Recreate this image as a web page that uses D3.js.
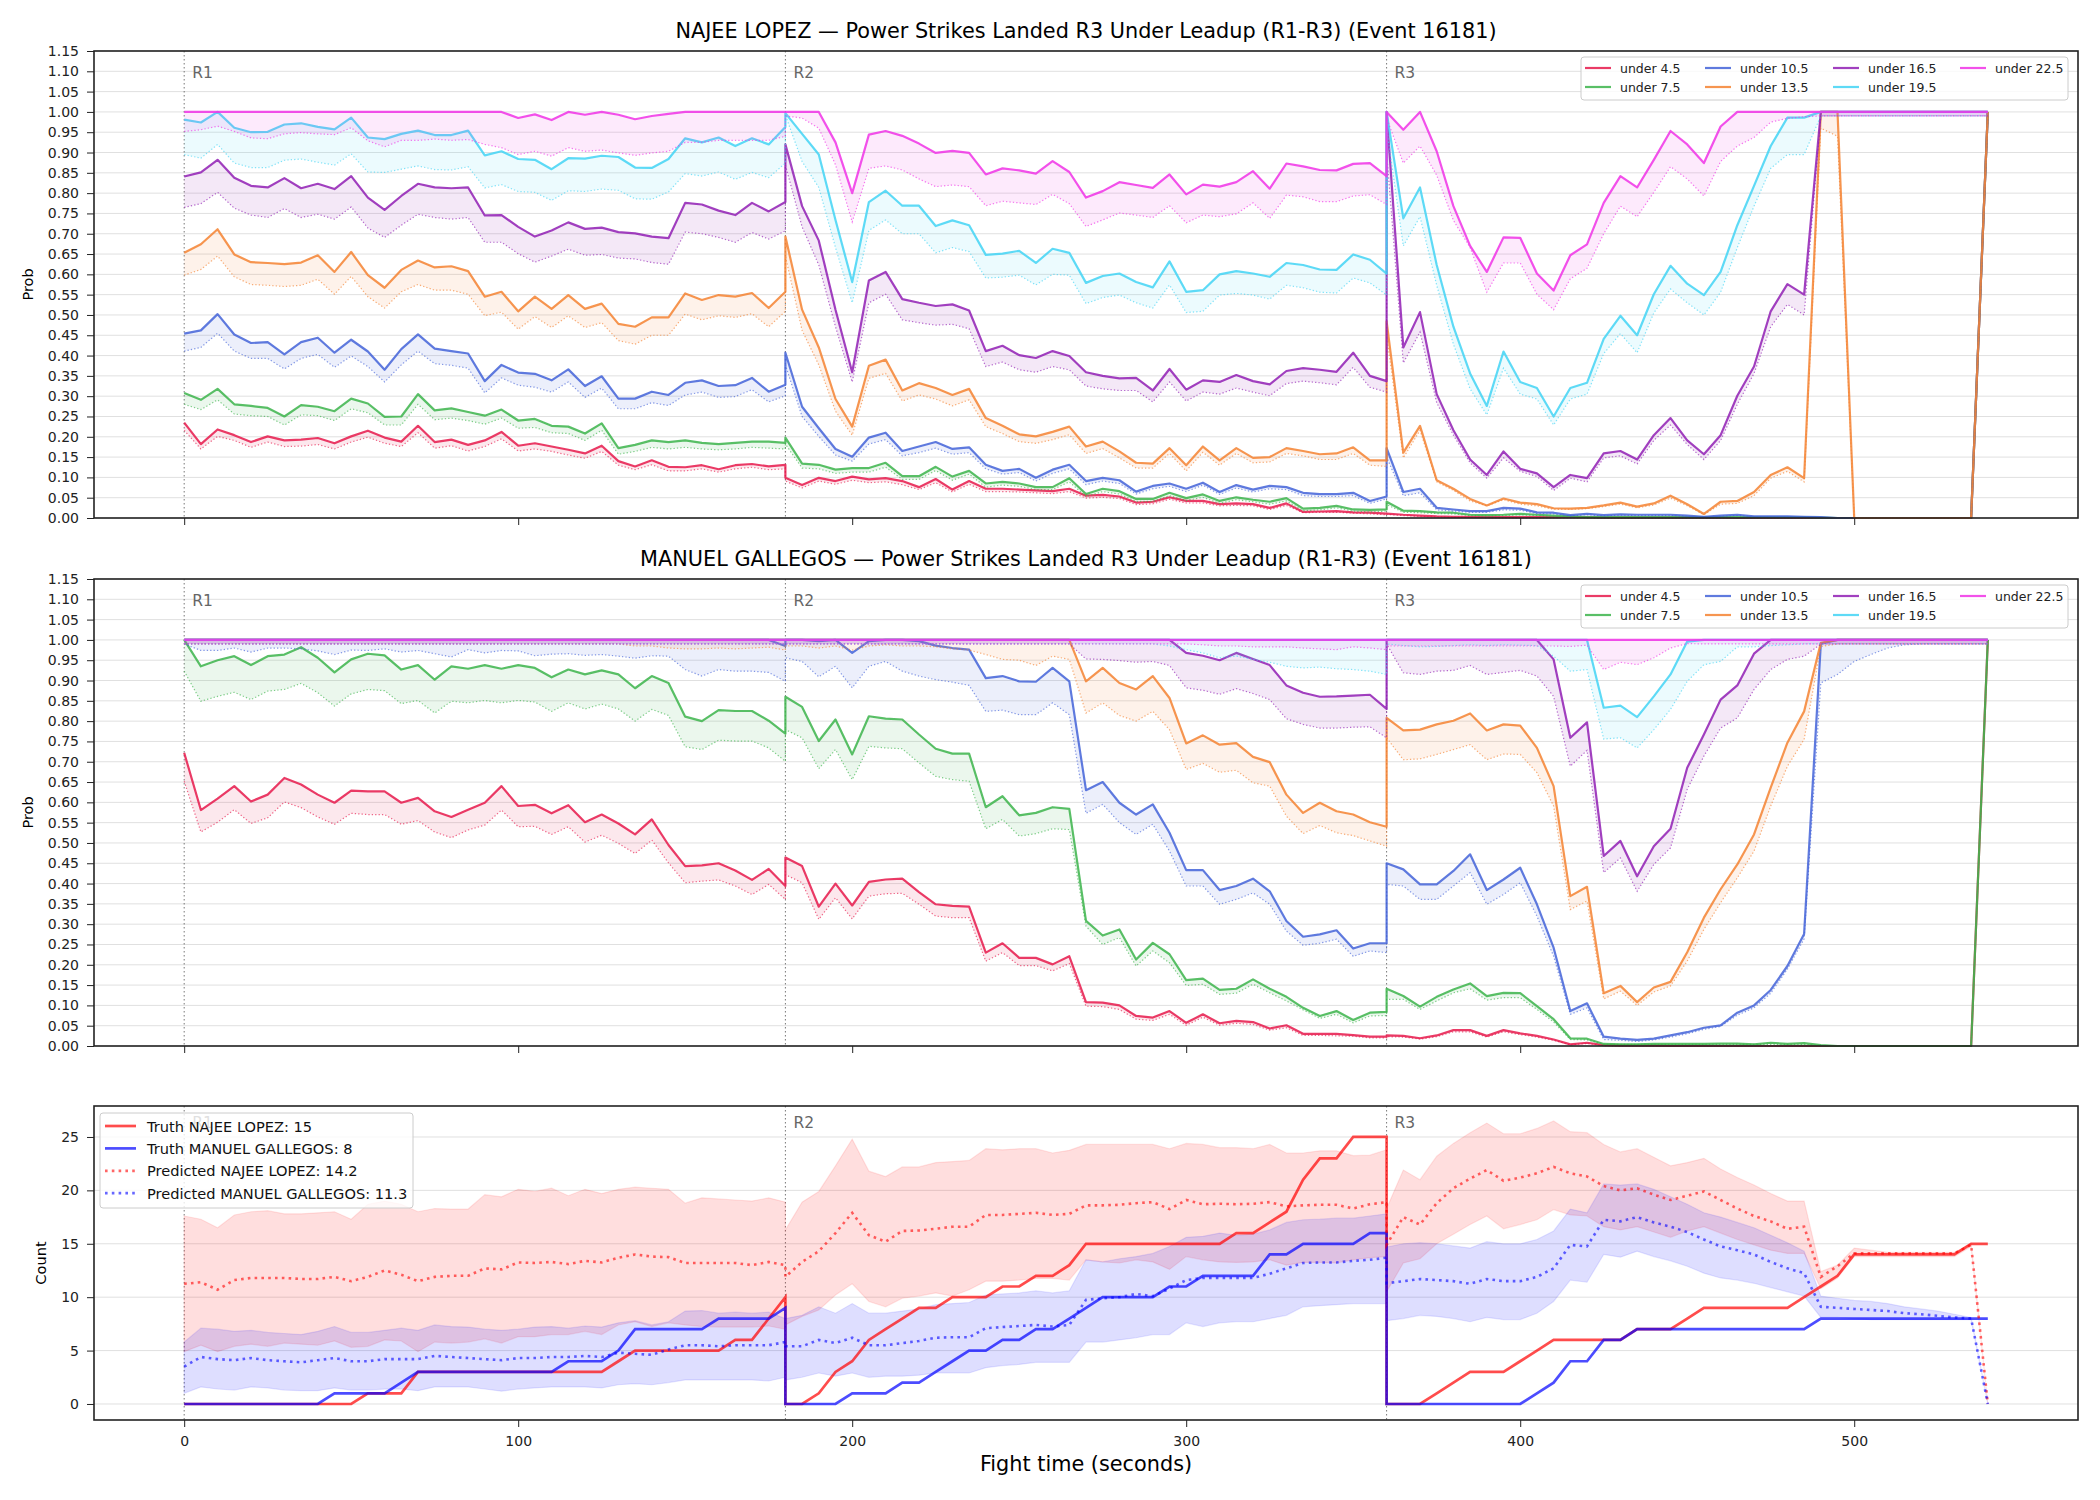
<!DOCTYPE html>
<html>
<head>
<meta charset="utf-8">
<title>Power Strikes Landed R3 Under Leadup</title>
<script src="https://d3js.org/d3.v7.min.js"></script>
<style>
  body { margin: 0; background: #fff; }
  text { font-family: "DejaVu Sans", sans-serif; }
</style>
</head>
<body>
<svg id="chart" width="2100" height="1500"></svg>
<script>
// sample times: every 5 s inside each round, rounds restart at 180 / 360
var roundStarts = [0, 180, 360];
var roundNames = ["R1", "R2", "R3"];
var stepSec = 5;
var times = [];
roundStarts.forEach(function (r) { for (var s = 0; s <= 180; s += stepSec) times.push(r + s); });

var lineLabels = ["under 4.5", "under 7.5", "under 10.5", "under 13.5", "under 16.5", "under 19.5", "under 22.5"];
var lineColors = ["#e6194b", "#3cb44b", "#4363d8", "#f58231", "#911eb4", "#42d4f4", "#f032e6"];
var probTicks = [0, 0.05, 0.1, 0.15, 0.2, 0.25, 0.3, 0.35, 0.4, 0.45, 0.5, 0.55, 0.6, 0.65, 0.7, 0.75, 0.8, 0.85, 0.9, 0.95, 1, 1.05, 1.1, 1.15];
var countTicks = [0, 5, 10, 15, 20, 25];
var timeTicks = [0, 100, 200, 300, 400, 500];

// ---- NAJEE LOPEZ (solid = prob, _lo = dotted lower) ----
var lopez_u45 = [0.235,0.182,0.218,0.204,0.187,0.201,0.191,0.193,0.197,0.184,0.201,0.215,0.198,0.188,0.227,0.187,0.193,0.180,0.191,0.212,0.178,0.184,0.176,0.168,0.159,0.178,0.140,0.127,0.142,0.126,0.125,0.130,0.120,0.130,0.133,0.127,0.131,
 0.099,0.081,0.099,0.091,0.102,0.095,0.098,0.091,0.076,0.096,0.070,0.091,0.072,0.072,0.070,0.068,0.066,0.072,0.055,0.057,0.053,0.038,0.040,0.051,0.042,0.042,0.034,0.036,0.034,0.025,0.036,0.015,0.016,0.017,0.014,0.013,0.011,
 0.011,0.008,0.006,0.004,0.003,0.003,0.002,0.002,0.002,0.002,0.002,0.002,0.002,0.001,0.001,0.001,0.001,0.001,0.001,0.001,0.001,0,0,0,0,0,0,0,0,0,0,0,0,0,0,0,1];
var lopez_u45_lo = [0.216,0.170,0.201,0.191,0.174,0.187,0.176,0.177,0.181,0.170,0.187,0.199,0.184,0.176,0.210,0.172,0.178,0.165,0.176,0.195,0.165,0.170,0.164,0.155,0.147,0.164,0.130,0.119,0.131,0.116,0.116,0.121,0.113,0.121,0.125,0.119,0.121,
 0.091,0.074,0.091,0.083,0.093,0.087,0.089,0.082,0.070,0.087,0.064,0.083,0.065,0.065,0.064,0.062,0.060,0.065,0.049,0.051,0.048,0.033,0.035,0.046,0.037,0.037,0.030,0.031,0.030,0.021,0.031,0.013,0.014,0.014,0.012,0.010,0.008,
 0.009,0.006,0.004,0.003,0.002,0.002,0.001,0.001,0.001,0.001,0.001,0.001,0.001,0,0,0,0,0,0,0,0,0,0,0,0,0,0,0,0,0,0,0,0,0,0,0,0.99];
var lopez_u75 = [0.308,0.291,0.318,0.280,0.276,0.271,0.250,0.278,0.274,0.263,0.294,0.282,0.249,0.250,0.305,0.265,0.270,0.261,0.252,0.267,0.240,0.244,0.227,0.225,0.208,0.233,0.172,0.180,0.191,0.187,0.191,0.185,0.182,0.185,0.188,0.188,0.185,
 0.198,0.134,0.131,0.119,0.123,0.123,0.136,0.103,0.103,0.126,0.102,0.116,0.085,0.089,0.085,0.076,0.076,0.098,0.059,0.072,0.066,0.047,0.047,0.062,0.049,0.058,0.042,0.051,0.045,0.040,0.049,0.023,0.025,0.030,0.021,0.020,0.021,
 0.040,0.018,0.017,0.014,0.013,0.008,0.007,0.008,0.010,0.008,0.006,0.004,0.002,0.002,0.002,0.002,0.002,0.002,0.002,0.002,0.002,0.002,0.002,0.002,0.002,0.002,0.001,0,0,0,0,0,0,0,0,0,1];
var lopez_u75_lo = [0.280,0.267,0.291,0.256,0.252,0.250,0.229,0.254,0.252,0.240,0.269,0.259,0.229,0.229,0.280,0.242,0.246,0.240,0.231,0.246,0.221,0.223,0.210,0.208,0.191,0.216,0.157,0.164,0.174,0.170,0.174,0.170,0.168,0.170,0.174,0.172,0.170,
 0.182,0.123,0.121,0.110,0.113,0.113,0.125,0.095,0.095,0.117,0.093,0.108,0.076,0.081,0.078,0.070,0.070,0.089,0.053,0.065,0.059,0.041,0.041,0.055,0.043,0.051,0.036,0.045,0.040,0.034,0.042,0.018,0.020,0.025,0.017,0.015,0.017,
 0.033,0.014,0.013,0.011,0.010,0.006,0.005,0.006,0.008,0.006,0.004,0.003,0.001,0.001,0.001,0.001,0.001,0.001,0.001,0.001,0.001,0.001,0.001,0.001,0.001,0.001,0,0,0,0,0,0,0,0,0,0,0.99];
var lopez_u105 = [0.454,0.462,0.502,0.452,0.431,0.433,0.403,0.433,0.444,0.407,0.439,0.410,0.365,0.416,0.452,0.417,0.411,0.405,0.337,0.377,0.358,0.355,0.339,0.366,0.325,0.349,0.294,0.294,0.311,0.303,0.333,0.339,0.325,0.327,0.345,0.311,0.328,
 0.407,0.274,0.221,0.170,0.151,0.198,0.210,0.165,0.176,0.187,0.170,0.174,0.131,0.116,0.121,0.099,0.119,0.131,0.091,0.099,0.093,0.065,0.079,0.085,0.072,0.087,0.064,0.081,0.070,0.079,0.076,0.062,0.059,0.059,0.062,0.042,0.053,
 0.172,0.064,0.072,0.025,0.021,0.017,0.017,0.025,0.023,0.014,0.013,0.007,0.010,0.007,0.009,0.008,0.008,0.008,0.006,0.003,0.006,0.008,0.004,0.004,0.004,0.003,0.002,0,0,0,0,0,0,0,0,0,1];
var lopez_u105_lo = [0.411,0.420,0.455,0.411,0.393,0.393,0.367,0.393,0.403,0.371,0.399,0.373,0.335,0.377,0.411,0.380,0.376,0.369,0.308,0.345,0.327,0.322,0.310,0.335,0.297,0.320,0.269,0.269,0.284,0.277,0.303,0.310,0.297,0.299,0.316,0.286,0.301,
 0.377,0.250,0.201,0.155,0.140,0.182,0.193,0.153,0.161,0.172,0.157,0.161,0.121,0.108,0.112,0.091,0.110,0.121,0.082,0.091,0.085,0.059,0.072,0.078,0.065,0.081,0.058,0.074,0.064,0.072,0.070,0.055,0.053,0.053,0.055,0.036,0.047,
 0.150,0.055,0.062,0.020,0.017,0.014,0.014,0.020,0.019,0.011,0.010,0.005,0.008,0.005,0.007,0.006,0.006,0.006,0.004,0.002,0.004,0.006,0.003,0.003,0.003,0.002,0.001,0,0,0,0,0,0,0,0,0,0.99];
var lopez_u135 = [0.653,0.674,0.711,0.649,0.630,0.628,0.625,0.629,0.647,0.606,0.655,0.598,0.567,0.611,0.634,0.617,0.620,0.608,0.545,0.557,0.509,0.545,0.515,0.549,0.515,0.528,0.478,0.471,0.494,0.494,0.553,0.537,0.549,0.545,0.554,0.517,0.557,
 0.693,0.513,0.420,0.293,0.225,0.375,0.390,0.314,0.332,0.320,0.303,0.318,0.246,0.227,0.206,0.201,0.212,0.225,0.176,0.188,0.164,0.136,0.134,0.172,0.130,0.176,0.142,0.172,0.148,0.150,0.172,0.165,0.157,0.159,0.174,0.142,0.142,
 0.484,0.161,0.227,0.093,0.072,0.047,0.031,0.048,0.038,0.034,0.024,0.023,0.025,0.031,0.038,0.028,0.036,0.055,0.034,0.010,0.040,0.042,0.064,0.106,0.125,0.098,1,1,0,0,0,0,0,0,0,0,1];
var lopez_u135_lo = [0.598,0.612,0.645,0.594,0.575,0.573,0.570,0.573,0.588,0.551,0.595,0.545,0.517,0.557,0.575,0.561,0.561,0.551,0.498,0.507,0.465,0.496,0.469,0.498,0.469,0.481,0.437,0.428,0.450,0.450,0.502,0.488,0.498,0.494,0.503,0.471,0.509,
 0.645,0.462,0.377,0.263,0.204,0.344,0.356,0.288,0.303,0.293,0.276,0.291,0.225,0.208,0.188,0.184,0.193,0.205,0.159,0.171,0.148,0.123,0.123,0.159,0.116,0.162,0.130,0.159,0.136,0.138,0.159,0.153,0.144,0.144,0.159,0.130,0.127,
 0.450,0.148,0.216,0.089,0.068,0.042,0.030,0.045,0.034,0.030,0.021,0.021,0.023,0.028,0.034,0.025,0.032,0.049,0.030,0.008,0.034,0.036,0.055,0.098,0.115,0.089,0.96,0.94,0,0,0,0,0,0,0,0,0.99];
var lopez_u165 = [0.841,0.851,0.882,0.838,0.818,0.814,0.837,0.812,0.823,0.810,0.842,0.789,0.759,0.793,0.823,0.814,0.812,0.814,0.745,0.746,0.717,0.693,0.708,0.728,0.712,0.715,0.704,0.701,0.693,0.689,0.776,0.772,0.757,0.746,0.776,0.755,0.778,
 0.920,0.768,0.683,0.513,0.359,0.585,0.606,0.539,0.530,0.522,0.526,0.511,0.411,0.424,0.401,0.394,0.411,0.399,0.359,0.350,0.344,0.345,0.314,0.367,0.316,0.339,0.335,0.352,0.337,0.329,0.362,0.369,0.365,0.360,0.407,0.350,0.337,
 1,0.420,0.507,0.305,0.216,0.144,0.106,0.164,0.121,0.110,0.076,0.106,0.098,0.159,0.165,0.144,0.204,0.246,0.191,0.157,0.204,0.301,0.373,0.509,0.576,0.550,1,1,1,1,1,1,1,1,1,1,1];
var lopez_u165_lo = [0.765,0.774,0.802,0.763,0.746,0.740,0.762,0.740,0.748,0.736,0.766,0.714,0.691,0.721,0.748,0.740,0.736,0.740,0.679,0.679,0.651,0.630,0.645,0.662,0.647,0.649,0.640,0.638,0.629,0.625,0.704,0.700,0.691,0.679,0.703,0.687,0.707,
 0.869,0.717,0.623,0.471,0.335,0.530,0.551,0.488,0.481,0.475,0.477,0.466,0.373,0.384,0.365,0.359,0.373,0.365,0.325,0.318,0.314,0.314,0.286,0.335,0.288,0.310,0.305,0.320,0.310,0.301,0.331,0.337,0.333,0.328,0.371,0.322,0.310,
 0.90,0.382,0.458,0.284,0.204,0.136,0.098,0.148,0.115,0.102,0.068,0.098,0.089,0.148,0.153,0.133,0.191,0.229,0.181,0.144,0.191,0.280,0.356,0.471,0.526,0.500,0.99,0.99,0.99,0.99,0.99,0.99,0.99,0.99,0.99,0.99,0.99];
var lopez_u195 = [0.981,0.974,1.0,0.961,0.950,0.951,0.969,0.972,0.963,0.957,0.986,0.937,0.933,0.946,0.954,0.943,0.943,0.954,0.893,0.903,0.884,0.882,0.859,0.886,0.885,0.892,0.889,0.863,0.862,0.884,0.935,0.925,0.937,0.916,0.935,0.920,0.963,
 0.997,0.946,0.895,0.734,0.581,0.778,0.806,0.769,0.769,0.719,0.733,0.721,0.648,0.651,0.658,0.628,0.663,0.653,0.579,0.596,0.602,0.581,0.568,0.632,0.557,0.561,0.600,0.608,0.602,0.594,0.628,0.623,0.612,0.611,0.649,0.636,0.602,
 1,0.738,0.814,0.623,0.471,0.356,0.276,0.410,0.335,0.320,0.250,0.320,0.333,0.441,0.498,0.450,0.551,0.621,0.577,0.549,0.606,0.721,0.818,0.916,0.986,0.986,1,1,1,1,1,1,1,1,1,1,1];
var lopez_u195_lo = [0.895,0.886,0.920,0.874,0.863,0.863,0.881,0.884,0.876,0.869,0.897,0.852,0.851,0.859,0.867,0.858,0.857,0.865,0.813,0.821,0.804,0.802,0.782,0.806,0.804,0.810,0.807,0.786,0.785,0.803,0.848,0.842,0.852,0.834,0.851,0.838,0.874,
 0.992,0.878,0.814,0.666,0.530,0.708,0.734,0.700,0.700,0.653,0.666,0.656,0.591,0.593,0.598,0.574,0.600,0.598,0.528,0.543,0.549,0.530,0.517,0.574,0.506,0.509,0.549,0.553,0.549,0.539,0.573,0.567,0.556,0.554,0.591,0.579,0.549,
 0.96,0.670,0.742,0.573,0.428,0.318,0.254,0.369,0.305,0.293,0.229,0.293,0.305,0.405,0.454,0.407,0.505,0.564,0.530,0.500,0.556,0.666,0.768,0.861,0.895,0.895,0.99,0.99,0.99,0.99,0.99,0.99,0.99,0.99,0.99,0.99,0.99];
var lopez_u225 = [1,1,1,1,1,1,1,1,1,1,1,1,1,1,1,1,1,1,1,1,0.985,0.994,0.980,1,0.993,1,0.993,0.982,0.990,0.995,1,1,1,1,1,1,1,
 1,1,1,0.925,0.800,0.944,0.953,0.941,0.922,0.899,0.904,0.899,0.846,0.861,0.856,0.848,0.879,0.852,0.789,0.805,0.827,0.820,0.813,0.846,0.797,0.821,0.816,0.827,0.854,0.811,0.873,0.866,0.857,0.856,0.872,0.874,0.842,
 1,0.956,1,0.903,0.768,0.670,0.606,0.691,0.690,0.602,0.560,0.647,0.674,0.776,0.842,0.814,0.882,0.953,0.920,0.874,0.964,1,1,1,1,1,1,1,1,1,1,1,1,1,1,1,1];
var lopez_u225_lo = [0.952,0.956,0.965,0.952,0.936,0.934,0.946,0.949,0.946,0.944,0.961,0.929,0.914,0.930,0.930,0.933,0.930,0.932,0.920,0.912,0.895,0.903,0.891,0.912,0.903,0.906,0.899,0.893,0.899,0.903,0.925,0.925,0.930,0.930,0.930,0.930,0.940,
 0.990,0.985,0.960,0.870,0.729,0.861,0.867,0.857,0.835,0.816,0.820,0.816,0.769,0.780,0.776,0.772,0.797,0.774,0.718,0.734,0.751,0.746,0.740,0.769,0.727,0.746,0.742,0.749,0.776,0.738,0.795,0.791,0.779,0.779,0.793,0.796,0.772,
 0.985,0.874,0.916,0.844,0.733,0.666,0.556,0.628,0.628,0.551,0.513,0.589,0.615,0.700,0.768,0.742,0.802,0.865,0.835,0.793,0.878,0.916,0.937,0.975,0.984,0.988,0.99,0.99,0.99,0.99,0.99,0.99,0.99,0.99,0.99,0.99,0.99];

// ---- MANUEL GALLEGOS ----
var gallegos_u45 = [0.722,0.581,0.609,0.640,0.602,0.619,0.660,0.644,0.619,0.599,0.629,0.627,0.627,0.599,0.611,0.578,0.564,0.582,0.599,0.640,0.591,0.594,0.573,0.593,0.551,0.570,0.548,0.521,0.558,0.495,0.443,0.445,0.450,0.432,0.409,0.436,0.394,
 0.464,0.443,0.343,0.400,0.346,0.404,0.410,0.412,0.379,0.349,0.345,0.343,0.230,0.253,0.217,0.217,0.201,0.221,0.108,0.107,0.100,0.074,0.070,0.086,0.057,0.078,0.056,0.062,0.059,0.043,0.051,0.030,0.030,0.030,0.027,0.023,0.023,
 0.026,0.025,0.019,0.026,0.039,0.039,0.025,0.039,0.031,0.025,0.016,0.004,0.008,0.002,0.001,0.001,0.001,0,0,0,0,0,0,0,0,0,0,0,0,0,0,0,0,0,0,0,1];
var gallegos_u45_lo = [0.652,0.527,0.551,0.582,0.548,0.562,0.601,0.587,0.564,0.546,0.573,0.570,0.570,0.546,0.555,0.527,0.513,0.532,0.544,0.581,0.540,0.541,0.521,0.540,0.502,0.519,0.499,0.474,0.507,0.451,0.402,0.406,0.409,0.394,0.373,0.398,0.361,
 0.422,0.402,0.312,0.365,0.313,0.369,0.375,0.376,0.349,0.320,0.316,0.316,0.209,0.230,0.198,0.198,0.185,0.203,0.098,0.097,0.090,0.066,0.063,0.078,0.051,0.071,0.051,0.056,0.053,0.039,0.045,0.026,0.026,0.025,0.024,0.020,0.020,
 0.023,0.022,0.017,0.023,0.035,0.035,0.022,0.035,0.028,0.022,0.014,0.003,0.006,0.001,0,0,0,0,0,0,0,0,0,0,0,0,0,0,0,0,0,0,0,0,0,0,0.99];
var gallegos_u75 = [1.0,0.935,0.950,0.960,0.938,0.960,0.964,0.982,0.956,0.920,0.952,0.966,0.962,0.927,0.938,0.902,0.935,0.929,0.938,0.929,0.938,0.931,0.908,0.927,0.915,0.925,0.915,0.881,0.911,0.894,0.811,0.800,0.827,0.825,0.825,0.801,0.769,
 0.860,0.835,0.751,0.804,0.718,0.812,0.806,0.804,0.767,0.732,0.720,0.720,0.588,0.615,0.568,0.574,0.588,0.584,0.308,0.272,0.287,0.213,0.254,0.226,0.162,0.166,0.138,0.141,0.164,0.141,0.121,0.094,0.074,0.086,0.064,0.082,0.084,
 0.141,0.123,0.097,0.121,0.139,0.154,0.123,0.131,0.130,0.098,0.066,0.019,0.018,0.005,0.004,0.004,0.005,0.005,0.005,0.005,0.006,0.006,0.004,0.008,0.005,0.007,0.002,0,0,0,0,0,0,0,0,0,1];
var gallegos_u75_lo = [0.923,0.849,0.861,0.871,0.853,0.874,0.878,0.893,0.870,0.837,0.867,0.878,0.875,0.843,0.851,0.820,0.849,0.845,0.851,0.845,0.851,0.847,0.824,0.845,0.830,0.842,0.830,0.800,0.829,0.814,0.737,0.730,0.753,0.751,0.751,0.734,0.701,
 0.779,0.759,0.683,0.730,0.656,0.738,0.734,0.732,0.697,0.664,0.656,0.652,0.535,0.558,0.517,0.523,0.535,0.533,0.295,0.250,0.267,0.197,0.234,0.205,0.149,0.152,0.127,0.130,0.152,0.131,0.111,0.089,0.068,0.078,0.057,0.074,0.075,
 0.115,0.115,0.090,0.111,0.131,0.141,0.113,0.119,0.119,0.090,0.059,0.016,0.015,0.004,0.004,0.004,0.004,0.004,0.004,0.004,0.004,0.004,0.004,0.004,0.004,0.004,0.001,0,0,0,0,0,0,0,0,0,0.99];
var gallegos_u105 = [1,1,1,1,1,1,1,1,1,1,1,1,1,1,1,1,1,1,1,1,1,1,1,1,1,1,1,1,1,1,1,1,1,1,1,1,0.985,
 1,1,0.997,1,0.968,0.997,1,1,0.997,0.986,0.980,0.976,0.906,0.911,0.898,0.897,0.931,0.898,0.630,0.650,0.599,0.570,0.595,0.525,0.433,0.433,0.384,0.394,0.412,0.381,0.308,0.269,0.275,0.285,0.240,0.253,0.253,
 0.450,0.435,0.398,0.398,0.431,0.472,0.384,0.410,0.439,0.349,0.242,0.086,0.105,0.023,0.018,0.015,0.018,0.026,0.034,0.045,0.051,0.082,0.100,0.138,0.197,0.276,0.991,1,1,1,1,1,1,1,1,1,1];
var gallegos_u105_lo = [0.990,0.974,0.974,0.980,0.970,0.980,0.980,0.978,0.973,0.964,0.975,0.974,0.978,0.970,0.974,0.966,0.958,0.976,0.968,0.974,0.973,0.961,0.965,0.966,0.962,0.964,0.960,0.955,0.961,0.960,0.927,0.911,0.927,0.923,0.923,0.920,0.898,
 0.956,0.947,0.909,0.935,0.882,0.935,0.947,0.923,0.911,0.902,0.896,0.888,0.824,0.827,0.816,0.816,0.845,0.816,0.573,0.595,0.550,0.521,0.546,0.480,0.394,0.394,0.349,0.361,0.377,0.349,0.283,0.248,0.253,0.263,0.221,0.234,0.230,
 0.398,0.394,0.361,0.361,0.394,0.427,0.349,0.373,0.402,0.320,0.221,0.078,0.094,0.016,0.014,0.011,0.015,0.022,0.030,0.041,0.048,0.076,0.094,0.130,0.189,0.264,0.894,0.915,0.947,0.964,0.980,0.988,0.99,0.99,0.99,0.99,0.99];
var gallegos_u135 = [1,1,1,1,1,1,1,1,1,1,1,1,1,1,1,1,1,1,1,1,1,1,1,1,1,1,1,1,1,1,1,1,1,1,1,1,1,
 1,1,1,1,1,1,1,1,1,1,1,1,1,1,1,1,1,1,0.898,0.931,0.894,0.878,0.911,0.857,0.745,0.765,0.742,0.746,0.712,0.699,0.619,0.574,0.599,0.578,0.570,0.551,0.540,
 0.808,0.777,0.779,0.792,0.801,0.819,0.777,0.792,0.789,0.734,0.640,0.369,0.392,0.130,0.148,0.108,0.144,0.158,0.231,0.316,0.386,0.447,0.521,0.636,0.747,0.824,0.993,1,1,1,1,1,1,1,1,1,1];
var gallegos_u135_lo = [0.99,0.99,0.99,0.99,0.99,0.99,0.99,0.99,0.99,0.99,0.99,0.99,0.99,0.99,0.99,0.99,0.99,0.99,0.99,0.99,0.99,0.99,0.99,0.99,0.99,0.99,0.99,0.985,0.985,0.980,0.978,0.978,0.980,0.978,0.980,0.982,0.975,
 0.985,0.985,0.980,0.985,0.975,0.985,0.988,0.985,0.985,0.983,0.978,0.975,0.964,0.952,0.950,0.937,0.960,0.952,0.820,0.845,0.814,0.800,0.824,0.779,0.681,0.696,0.674,0.679,0.648,0.640,0.566,0.523,0.543,0.525,0.518,0.505,0.492,
 0.759,0.705,0.707,0.718,0.730,0.742,0.705,0.719,0.718,0.673,0.591,0.336,0.357,0.116,0.135,0.100,0.133,0.148,0.209,0.287,0.353,0.414,0.480,0.591,0.689,0.755,0.984,0.99,0.99,0.99,0.99,0.99,0.99,0.99,0.99,0.99,0.99];
var gallegos_u165 = [1,1,1,1,1,1,1,1,1,1,1,1,1,1,1,1,1,1,1,1,1,1,1,1,1,1,1,1,1,1,1,1,1,1,1,1,1,
 1,1,1,1,1,1,1,1,1,1,1,1,1,1,1,1,1,1,1,1,1,1,1,1,0.968,0.961,0.950,0.968,0.953,0.938,0.888,0.870,0.860,0.861,0.863,0.865,0.830,
 1,1,1,1,1,1,1,1,1,1,0.952,0.759,0.797,0.468,0.505,0.418,0.492,0.535,0.685,0.767,0.853,0.888,0.966,1,1,1,1,1,1,1,1,1,1,1,1,1,1];
var gallegos_u165_lo = [0.99,0.99,0.99,0.99,0.99,0.99,0.99,0.99,0.99,0.99,0.99,0.99,0.99,0.99,0.99,0.99,0.99,0.99,0.99,0.99,0.99,0.99,0.99,0.99,0.99,0.99,0.99,0.99,0.99,0.99,0.99,0.99,0.99,0.99,0.99,0.99,0.99,
 0.99,0.99,0.99,0.99,0.99,0.99,0.99,0.99,0.99,0.99,0.99,0.99,0.99,0.99,0.99,0.99,0.99,0.99,0.953,0.952,0.949,0.945,0.947,0.937,0.882,0.876,0.866,0.880,0.868,0.853,0.806,0.792,0.783,0.783,0.785,0.786,0.759,
 0.99,0.919,0.915,0.923,0.925,0.937,0.915,0.920,0.925,0.911,0.861,0.689,0.728,0.427,0.463,0.381,0.447,0.488,0.632,0.714,0.783,0.808,0.878,0.927,0.952,0.960,0.99,0.99,0.99,0.99,0.99,0.99,0.99,0.99,0.99,0.99,0.99];
var gallegos_u195 = [1,1,1,1,1,1,1,1,1,1,1,1,1,1,1,1,1,1,1,1,1,1,1,1,1,1,1,1,1,1,1,1,1,1,1,1,1,
 1,1,1,1,1,1,1,1,1,1,1,1,1,1,1,1,1,1,1,1,1,1,1,1,1,1,1,1,1,1,1,1,1,1,1,1,1,
 1,1,1,1,1,1,1,1,1,1,1,1,1,0.833,0.838,0.810,0.861,0.915,0.996,1,1,1,1,1,1,1,1,1,1,1,1,1,1,1,1,1,1];
var gallegos_u195_lo = [0.99,0.99,0.99,0.99,0.99,0.99,0.99,0.99,0.99,0.99,0.99,0.99,0.99,0.99,0.99,0.99,0.99,0.99,0.99,0.99,0.99,0.99,0.99,0.99,0.99,0.99,0.99,0.99,0.99,0.99,0.99,0.99,0.99,0.99,0.99,0.99,0.99,
 0.99,0.99,0.99,0.99,0.99,0.99,0.99,0.99,0.99,0.99,0.99,0.99,0.99,0.99,0.99,0.99,0.99,0.99,0.99,0.99,0.99,0.99,0.99,0.985,0.976,0.968,0.956,0.960,0.952,0.945,0.935,0.931,0.933,0.929,0.927,0.923,0.915,
 0.99,0.986,0.983,0.984,0.986,0.988,0.986,0.988,0.987,0.986,0.960,0.923,0.927,0.756,0.759,0.734,0.779,0.829,0.898,0.939,0.947,0.983,0.983,0.986,0.988,0.99,0.99,0.99,0.99,0.99,0.99,0.99,0.99,0.99,0.99,0.99,0.99];
var gallegos_u225 = [1,1,1,1,1,1,1,1,1,1,1,1,1,1,1,1,1,1,1,1,1,1,1,1,1,1,1,1,1,1,1,1,1,1,1,1,1,
 1,1,1,1,1,1,1,1,1,1,1,1,1,1,1,1,1,1,1,1,1,1,1,1,1,1,1,1,1,1,1,1,1,1,1,1,1,
 1,1,1,1,1,1,1,1,1,1,1,1,1,1,1,1,1,1,1,1,1,1,1,1,1,1,1,1,1,1,1,1,1,1,1,1,1];
var gallegos_u225_lo = [0.99,0.99,0.99,0.99,0.99,0.99,0.99,0.99,0.99,0.99,0.99,0.99,0.99,0.99,0.99,0.99,0.99,0.99,0.99,0.99,0.99,0.99,0.99,0.99,0.99,0.99,0.99,0.99,0.99,0.99,0.99,0.99,0.99,0.99,0.99,0.99,0.99,
 0.99,0.99,0.99,0.99,0.99,0.99,0.99,0.99,0.99,0.99,0.99,0.99,0.99,0.99,0.99,0.99,0.99,0.99,0.99,0.99,0.99,0.99,0.99,0.99,0.99,0.988,0.985,0.985,0.983,0.983,0.983,0.980,0.978,0.976,0.983,0.980,0.976,
 0.985,0.985,0.985,0.985,0.985,0.985,0.985,0.985,0.985,0.985,0.985,0.984,0.987,0.927,0.945,0.939,0.956,0.980,0.991,0.99,0.99,0.99,0.99,0.99,0.99,0.99,0.99,0.99,0.99,0.99,0.99,0.99,0.99,0.99,0.99,0.99,0.99];

// ---- cumulative counts panel ----
var truthLopez = [0,0,0,0,0,0,0,0,0,0,0,1,1,1,3,3,3,3,3,3,3,3,3,3,3,3,4,5,5,5,5,5,5,6,6,8,10,
 0,0,1,3,4,6,7,8,9,9,10,10,10,11,11,12,12,13,15,15,15,15,15,15,15,15,15,16,16,17,18,21,23,23,25,25,25,
 0,0,0,1,2,3,3,3,4,5,6,6,6,6,6,7,7,7,8,9,9,9,9,9,9,10,11,12,14,14,14,14,14,14,14,15,15];
var truthGallegos = [0,0,0,0,0,0,0,0,0,1,1,1,1,2,3,3,3,3,3,3,3,3,3,4,4,4,5,7,7,7,7,7,8,8,8,8,9,
 0,0,0,0,1,1,1,2,2,3,4,5,5,6,6,7,7,8,9,10,10,10,10,11,11,12,12,12,12,14,14,15,15,15,15,16,16,
 0,0,0,0,0,0,0,0,0,1,2,4,4,6,6,7,7,7,7,7,7,7,7,7,7,7,8,8,8,8,8,8,8,8,8,8,8];
var predLopez = [11.25,11.4,10.7,11.6,11.8,11.8,11.8,11.7,11.7,11.9,11.5,11.9,12.5,12.1,11.5,11.9,12.0,12.0,12.7,12.6,13.25,13.2,13.3,13.1,13.4,13.25,13.7,14.0,13.8,13.75,13.2,13.2,13.2,13.2,13.0,13.3,13.0,
 11.9,13.3,14.3,16.0,17.9,15.8,15.2,16.2,16.25,16.4,16.6,16.6,17.7,17.7,17.8,17.9,17.7,17.8,18.6,18.6,18.65,18.8,18.9,18.25,19.1,18.7,18.75,18.7,18.75,18.9,18.5,18.6,18.65,18.65,18.3,18.7,18.9,
 14.9,17.5,16.8,18.8,20.2,21.1,21.9,20.9,21.2,21.6,22.2,21.6,21.3,20.4,20.0,20.2,19.6,19.1,19.5,19.9,19.1,18.3,17.6,17.1,16.4,16.6,11.9,12.9,14.1,14.1,14.1,14.1,14.1,14.1,14.1,14.9,0];
var predGallegos = [3.5,4.4,4.2,4.1,4.3,4.1,4.0,3.9,4.1,4.3,4.0,4.0,4.2,4.2,4.2,4.5,4.4,4.3,4.2,4.1,4.3,4.3,4.4,4.4,4.5,4.4,4.8,4.7,4.6,5.1,5.5,5.5,5.4,5.5,5.5,5.5,5.8,
 5.4,5.4,6.0,5.7,6.2,5.5,5.5,5.7,5.9,6.2,6.25,6.25,7.1,7.2,7.3,7.4,7.25,7.4,9.75,9.9,10.0,10.3,10.1,10.8,11.6,11.8,11.8,11.8,11.8,12.2,12.7,13.2,13.25,13.25,13.4,13.5,13.7,
 11.3,11.5,11.7,11.6,11.5,11.25,11.7,11.5,11.5,11.9,12.7,14.9,14.75,17.25,17.1,17.5,17.0,16.6,16.1,15.4,14.75,14.4,14.0,13.3,12.7,12.25,9.1,9.0,8.9,8.8,8.7,8.5,8.4,8.25,8.1,8.0,0];
var bandLopezHi = [17.6,17.3,16.5,17.7,18.0,18.1,17.8,17.8,17.9,18.0,17.3,18.7,19.0,18.7,18.0,18.3,18.25,18.25,19.6,19.4,20.1,19.9,20.2,19.5,20.1,19.7,20.1,20.3,20.2,20.1,18.8,19.3,19.2,19.1,19.0,19.3,18.9,
 16.3,18.9,19.9,22.3,24.8,21.8,21.3,22.2,22.2,22.6,22.7,22.8,23.9,23.8,23.9,23.9,23.5,23.75,24.3,24.3,24.3,24.3,24.3,23.9,24.4,24.3,24.0,24.0,23.9,24.3,23.5,23.5,23.7,23.7,23.25,23.3,23.8,
 18.3,21.9,21.0,23.2,24.4,25.4,26.3,25.3,25.3,25.8,26.5,25.5,25.4,24.3,23.6,23.9,23.1,22.3,22.6,23.0,22.0,21.2,20.5,19.7,19.0,19.0,12.4,13.0,14.6,14.4,14.2,14.2,14.2,14.2,14.2,15.0,0];
var bandLopezLo = [4.9,5.5,4.9,5.4,5.6,5.4,5.7,5.6,5.5,5.9,5.3,5.4,6.0,5.9,4.9,5.8,5.7,5.8,6.1,5.7,6.3,6.3,6.5,6.5,6.8,6.5,7.4,7.7,7.25,7.6,7.4,7.25,7.2,7.2,7.2,7.3,7.0,
 7.4,8.2,8.8,10.2,11.25,9.6,9.1,9.9,10.1,10.4,10.1,10.7,11.5,11.5,11.6,11.75,11.75,11.6,13.5,13.3,13.2,13.5,13.3,12.6,13.8,13.5,13.3,13.25,13.3,13.5,13.0,13.25,13.25,13.2,13.5,13.7,13.8,
 10.5,13.2,13.6,15.0,15.9,16.8,17.6,16.4,16.8,17.25,18.2,17.7,17.6,16.6,16.3,16.6,16.1,15.6,16.2,16.6,16.0,15.4,14.9,14.4,14.1,14.1,10.8,11.8,13.8,13.8,13.8,13.8,13.8,13.8,13.8,14.75,0];
var bandGallegosHi = [5.8,7.1,7.0,6.8,6.9,6.7,6.6,6.5,6.8,7.25,6.7,6.7,6.9,7.1,6.9,7.4,7.25,7.2,7.0,6.9,7.0,7.2,7.25,7.1,7.3,7.2,7.6,7.8,7.4,7.7,8.7,8.75,8.5,8.6,8.5,8.6,8.0,
 8.0,8.3,9.1,8.5,9.4,8.5,8.5,8.7,8.9,9.3,9.4,9.5,10.2,10.3,10.4,10.6,10.4,10.6,13.5,13.3,13.6,13.8,14.1,14.75,15.6,15.7,16.0,15.8,15.9,16.3,17.0,17.25,17.3,17.4,17.4,17.6,17.8,
 14.7,15.0,15.1,15.0,14.8,14.6,15.2,15.0,15.0,15.4,16.2,18.25,17.9,20.6,20.5,20.6,20.1,19.4,18.7,17.9,17.5,17.0,16.5,15.8,15.1,14.3,10.1,9.9,9.7,9.6,9.4,9.1,8.9,8.7,8.4,8.1,0];
var bandGallegosLo = [1.0,1.6,1.4,1.3,1.6,1.5,1.3,1.25,1.25,1.5,1.3,1.3,1.4,1.4,1.25,1.6,1.6,1.6,1.4,1.2,1.4,1.5,1.6,1.6,1.6,1.5,1.8,1.9,1.8,2.0,2.25,2.25,2.25,2.25,2.25,2.15,2.5,
 2.25,2.5,2.9,2.6,2.9,2.5,2.6,2.6,2.7,2.9,2.9,2.9,3.4,3.6,3.7,3.9,3.9,3.9,5.8,5.8,6.0,6.2,6.5,6.5,7.6,7.25,7.6,7.7,7.7,8.0,8.3,9.1,9.2,9.3,9.4,9.4,9.4,
 7.8,8.0,8.3,8.2,8.0,7.7,8.1,7.9,7.9,8.5,9.6,11.6,11.4,14.0,13.75,14.3,13.8,13.4,12.9,12.25,11.8,11.6,11.3,10.9,10.5,10.1,8.1,8.1,8.0,7.9,7.9,7.9,7.9,7.9,7.9,7.9,0];

var lopezSolid = [lopez_u45, lopez_u75, lopez_u105, lopez_u135, lopez_u165, lopez_u195, lopez_u225];
var lopezDotted = [lopez_u45_lo, lopez_u75_lo, lopez_u105_lo, lopez_u135_lo, lopez_u165_lo, lopez_u195_lo, lopez_u225_lo];
var gallegosSolid = [gallegos_u45, gallegos_u75, gallegos_u105, gallegos_u135, gallegos_u165, gallegos_u195, gallegos_u225];
var gallegosDotted = [gallegos_u45_lo, gallegos_u75_lo, gallegos_u105_lo, gallegos_u135_lo, gallegos_u165_lo, gallegos_u195_lo, gallegos_u225_lo];

var svg = d3.select("#chart");
var plotLeft = 94, plotRight = 2078;
var xScale = d3.scaleLinear().domain([-27, 567]).range([plotLeft, plotRight]);

function gridAndRounds(g, y, ticks, top, bottom) {
  g.selectAll(".grid").data(ticks).enter().append("line")
    .attr("x1", plotLeft).attr("x2", plotRight)
    .attr("y1", d => y(d)).attr("y2", d => y(d))
    .attr("stroke", "#e0e0e0").attr("stroke-width", 1);
  g.selectAll(".round").data(roundStarts).enter().append("line")
    .attr("x1", d => xScale(d)).attr("x2", d => xScale(d))
    .attr("y1", top).attr("y2", bottom)
    .attr("stroke", "#555").attr("stroke-opacity", 0.8)
    .attr("stroke-width", 1).attr("stroke-dasharray", "1.5,2.5");
}

function roundLabels(g, top, yOff) {
  g.selectAll(".rlab").data(roundStarts).enter().append("text")
    .attr("x", d => xScale(d) + 8).attr("y", top + yOff)
    .attr("dominant-baseline", "central")
    .attr("font-size", 15.5).attr("fill", "#666")
    .text((d, i) => roundNames[i]);
}

function axes(g, y, ticks, fmt, top, bottom, showX) {
  var ya = g.append("g").attr("transform", "translate(" + plotLeft + ",0)")
    .call(d3.axisLeft(y).tickValues(ticks).tickFormat(fmt).tickSize(7).tickPadding(8));
  ya.select(".domain").remove();
  ya.attr("font-size", 14).attr("font-family", "DejaVu Sans").attr("color", "#222");
  var xa = g.append("g").attr("transform", "translate(0," + bottom + ")")
    .call(d3.axisBottom(xScale).tickValues(timeTicks).tickFormat(showX ? d3.format("d") : "").tickSize(7).tickPadding(9));
  xa.select(".domain").remove();
  xa.attr("font-size", 14).attr("font-family", "DejaVu Sans").attr("color", "#222");
  g.append("rect").attr("x", plotLeft).attr("y", top)
    .attr("width", plotRight - plotLeft).attr("height", bottom - top)
    .attr("fill", "none").attr("stroke", "#222").attr("stroke-width", 1.6);
}

function drawProbPanel(top, bottom, title, solids, dotteds) {
  var y = d3.scaleLinear().domain([0, 1.15]).range([bottom, top]);
  var g = svg.append("g");
  gridAndRounds(g, y, probTicks, top, bottom);

  solids.forEach(function (vals, i) {
    var lo = dotteds[i];
    var pts = times.map((t, k) => [t, vals[k], lo[k]]);
    g.append("path").datum(pts)
      .attr("d", d3.area().x(d => xScale(d[0])).y0(d => y(d[2])).y1(d => y(d[1])))
      .attr("fill", lineColors[i]).attr("fill-opacity", 0.1);
    g.append("path").datum(pts)
      .attr("d", d3.line().x(d => xScale(d[0])).y(d => y(d[2])))
      .attr("fill", "none").attr("stroke", lineColors[i]).attr("stroke-opacity", 0.65)
      .attr("stroke-width", 1.2).attr("stroke-dasharray", "1.3,2.1");
    g.append("path").datum(pts)
      .attr("d", d3.line().x(d => xScale(d[0])).y(d => y(d[1])))
      .attr("fill", "none").attr("stroke", lineColors[i]).attr("stroke-opacity", 0.85)
      .attr("stroke-width", 2.2).attr("stroke-linejoin", "round");
  });

  roundLabels(g, top, 22);
  axes(g, y, probTicks, d3.format(".2f"), top, bottom, false);

  svg.append("text").attr("x", (plotLeft + plotRight) / 2).attr("y", top - 20)
    .attr("text-anchor", "middle").attr("dominant-baseline", "central")
    .attr("font-size", 20.8).attr("fill", "#000").text(title);
  svg.append("text").attr("transform", "translate(28," + ((top + bottom) / 2) + ") rotate(-90)")
    .attr("text-anchor", "middle").attr("dominant-baseline", "central")
    .attr("font-size", 14.5).text("Prob");

  // legend, 4 columns filled top-to-bottom
  var lg = svg.append("g");
  lg.append("rect").attr("x", 1581).attr("y", top + 6).attr("width", 487).attr("height", 43)
    .attr("rx", 3).attr("fill", "#fff").attr("fill-opacity", 0.8)
    .attr("stroke", "#cccccc").attr("stroke-width", 1);
  var colX = [1585, 1705, 1833, 1960];
  lineLabels.forEach(function (lab, i) {
    var cx = colX[Math.floor(i / 2)], cy = top + 17 + (i % 2) * 19;
    lg.append("line").attr("x1", cx).attr("x2", cx + 26).attr("y1", cy).attr("y2", cy)
      .attr("stroke", lineColors[i]).attr("stroke-opacity", 0.85).attr("stroke-width", 2.2);
    lg.append("text").attr("x", cx + 35).attr("y", cy).attr("dominant-baseline", "central")
      .attr("font-size", 12.5).attr("fill", "#222").text(lab);
  });
}

drawProbPanel(51, 518, "NAJEE LOPEZ \u2014 Power Strikes Landed R3 Under Leadup (R1-R3) (Event 16181)", lopezSolid, lopezDotted);
drawProbPanel(579, 1046, "MANUEL GALLEGOS \u2014 Power Strikes Landed R3 Under Leadup (R1-R3) (Event 16181)", gallegosSolid, gallegosDotted);

// ---- counts panel ----
(function () {
  var top = 1106, bottom = 1420;
  var y = d3.scaleLinear().domain([-1.5, 27.9]).range([bottom, top]);
  var g = svg.append("g");
  gridAndRounds(g, y, countTicks, top, bottom);

  var bands = [[bandLopezLo, bandLopezHi, "#ff0000"], [bandGallegosLo, bandGallegosHi, "#0000ff"]];
  bands.forEach(function (b) {
    var pts = times.map((t, k) => [t, b[0][k], b[1][k]]);
    g.append("path").datum(pts)
      .attr("d", d3.area().x(d => xScale(d[0])).y0(d => y(d[1])).y1(d => y(d[2])))
      .attr("fill", b[2]).attr("fill-opacity", 0.13)
      .attr("stroke", b[2]).attr("stroke-opacity", 0.1).attr("stroke-width", 1.2);
  });

  var line = d3.line().x(d => xScale(d[0])).y(d => y(d[1]));
  var series = [
    [truthLopez, "#ff0000", null],
    [truthGallegos, "#0000ff", null],
    [predLopez, "#ff0000", "2.6,4.2"],
    [predGallegos, "#0000ff", "2.6,4.2"]
  ];
  series.forEach(function (s) {
    g.append("path").datum(times.map((t, k) => [t, s[0][k]]))
      .attr("d", line).attr("fill", "none")
      .attr("stroke", s[1]).attr("stroke-opacity", s[2] ? 0.6 : 0.7)
      .attr("stroke-width", s[2] ? 2.6 : 2.7)
      .attr("stroke-dasharray", s[2]);
  });

  roundLabels(g, top, 17);
  axes(g, y, countTicks, d3.format("d"), top, bottom, true);

  svg.append("text").attr("transform", "translate(40," + ((top + bottom) / 2) + ") rotate(-90)")
    .attr("text-anchor", "middle").attr("dominant-baseline", "central")
    .attr("font-size", 14.6).text("Count");
  svg.append("text").attr("x", (plotLeft + plotRight) / 2).attr("y", 1464)
    .attr("text-anchor", "middle").attr("dominant-baseline", "central")
    .attr("font-size", 20.8).text("Fight time (seconds)");

  var legendItems = [
    ["Truth NAJEE LOPEZ: 15", "#ff0000", null],
    ["Truth MANUEL GALLEGOS: 8", "#0000ff", null],
    ["Predicted NAJEE LOPEZ: 14.2", "#ff0000", "2.6,4.2"],
    ["Predicted MANUEL GALLEGOS: 11.3", "#0000ff", "2.6,4.2"]
  ];
  var lg = svg.append("g");
  lg.append("rect").attr("x", 100).attr("y", 1113).attr("width", 313).attr("height", 95)
    .attr("rx", 3).attr("fill", "#fff").attr("fill-opacity", 0.8)
    .attr("stroke", "#cccccc").attr("stroke-width", 1);
  legendItems.forEach(function (it, i) {
    var cy = 1126 + i * 22.4;
    lg.append("line").attr("x1", 105).attr("x2", 136).attr("y1", cy).attr("y2", cy)
      .attr("stroke", it[1]).attr("stroke-opacity", it[2] ? 0.6 : 0.7)
      .attr("stroke-width", 2.7).attr("stroke-dasharray", it[2]);
    lg.append("text").attr("x", 147).attr("y", cy).attr("dominant-baseline", "central")
      .attr("font-size", 14.6).attr("fill", "#111").text(it[0]);
  });
})();
</script>
</body>
</html>
